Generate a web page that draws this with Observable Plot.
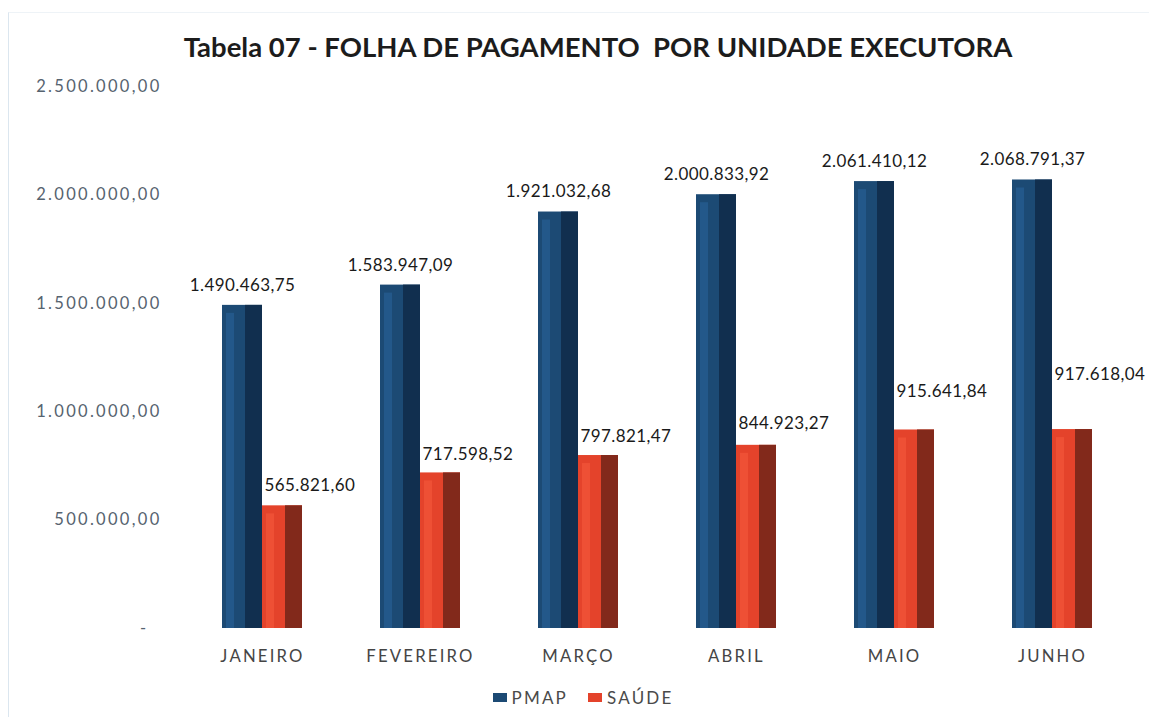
<!DOCTYPE html>
<html>
<head>
<meta charset="utf-8">
<script src="https://cdn.jsdelivr.net/npm/d3@7"></script>
<script src="https://cdn.jsdelivr.net/npm/@observablehq/plot@0.6"></script>
<style>
  html, body { margin: 0; padding: 0; background: #ffffff; overflow: hidden; }
  #wrap { position: relative; width: 1154px; height: 720px; }
  #frame { position: absolute; left: 8px; top: 12px; width: 1140px; height: 704px; border-left: 1px solid #dbe6ef; border-top: 1px solid #eef3f7; }
  #title { position: absolute; top: 30px; left: 42px; width: 1112px; text-align: center; white-space: pre;
           font-family: Lato, "Open Sans", sans-serif; font-weight: 700; font-size: 27.5px; color: #1c1c1c; }
  #chart { position: absolute; top: 70px; left: 0; }
  #chart g[aria-label="y-axis tick label"] { letter-spacing: 2.3px; }
  #chart g[aria-label="fx-axis tick label"] { letter-spacing: 2.2px; }
  #chart g[aria-label="text"] { letter-spacing: 0.4px; }
  #legend { position: absolute; top: 687px; left: 0; width: 1154px; display: flex; justify-content: center; gap: 20px;
            font-family: Lato, sans-serif; font-size: 17px; letter-spacing: 2.2px; color: #4a4a4a; padding-left: 12px; box-sizing: border-box; }
  .item { display: flex; align-items: center; gap: 5px; }
  .sw { width: 14px; height: 9px; display: inline-block; }
</style>
</head>
<body>
<div id="wrap">
  <div id="frame"></div>
  <div id="title">Tabela 07 - FOLHA DE PAGAMENTO  POR UNIDADE EXECUTORA</div>
  <div id="chart"></div>
  <div id="legend"></div>
</div>
<script>
// ---- data ----
const months = ["JANEIRO", "FEVEREIRO", "MARÇO", "ABRIL", "MAIO", "JUNHO"];
const seriesNames = ["PMAP", "SAÚDE"];
const pmapValues = [1490463.75, 1583947.09, 1921032.68, 2000833.92, 2061410.12, 2068791.37];
const saudeValues = [565821.60, 717598.52, 797821.47, 844923.27, 915641.84, 917618.04];
const yTicks = [0, 500000, 1000000, 1500000, 2000000, 2500000];

// ---- styles ----
const frontColor = {"PMAP": "#1c4a74", "SAÚDE": "#e4432b"};
const sideColor = {"PMAP": "#112f4f", "SAÚDE": "#82291b"};
const lightColor = {"PMAP": "#23588a", "SAÚDE": "#ee5035"};
// vertical offset of the SAÚDE value labels (style only)
const saudeLabelDy = {"JANEIRO": -20, "FEVEREIRO": -18, "MARÇO": -19, "ABRIL": -22, "MAIO": -38, "JUNHO": -55};
const FONT = "Lato, 'Open Sans', sans-serif";

const rows = months.flatMap((m, i) => [
  {month: m, series: seriesNames[0], value: pmapValues[i]},
  {month: m, series: seriesNames[1], value: saudeValues[i]}
]);

const loc = d3.formatLocale({decimal: ",", thousands: ".", grouping: [3], currency: ["", ""]});
const fmt = loc.format(",.2f");
const tickFmt = v => v === 0 ? "-\u00a0\u00a0" : fmt(v);

const saudeLabelMarks = months.map(m =>
  Plot.text(rows.filter(d => d.series === "SAÚDE" && d.month === m), {
    fx: "month", x: "series", y: "value", text: d => fmt(d.value),
    dy: saudeLabelDy[m], dx: -18, textAnchor: "start", fontSize: 17, fill: "#1a1a1a"
  })
);

const plot = Plot.plot({
  width: 1154,
  height: 600,
  marginTop: 16,
  marginBottom: 42,
  marginLeft: 183,
  marginRight: 23,
  style: {fontFamily: FONT, background: "transparent", overflow: "visible"},
  fx: {domain: months, padding: 0, label: null},
  x: {domain: seriesNames, paddingInner: 0, paddingOuter: 0.975, axis: null},
  y: {domain: [0, 2500000], label: null},
  marks: [
    Plot.axisY({ticks: yTicks, tickFormat: tickFmt, tickSize: 0, tickPadding: 22, fontSize: 16.5, fill: "#56636f", label: null}),
    Plot.axisFx({anchor: "bottom", tickSize: 0, tickPadding: 22, fontSize: 16.7, fill: "#454545", label: null}),
    Plot.barY(rows, {fx: "month", x: "series", y: "value", fill: d => frontColor[d.series]}),
    Plot.barY(rows, {fx: "month", x: "series", y: "value", fill: d => lightColor[d.series], insetLeft: 4, insetRight: 28, insetTop: 8}),
    Plot.barY(rows, {fx: "month", x: "series", y: "value", fill: d => sideColor[d.series], insetLeft: 23}),
    Plot.text(rows.filter(d => d.series === "PMAP"), {fx: "month", x: "series", y: "value", text: d => fmt(d.value),
      dy: -20, fontSize: 17, fill: "#1a1a1a"}),
    ...saudeLabelMarks
  ]
});
document.getElementById("chart").appendChild(plot);

const legend = document.getElementById("legend");
for (const s of seriesNames) {
  const item = document.createElement("span");
  item.className = "item";
  const sw = document.createElement("span");
  sw.className = "sw";
  sw.style.background = frontColor[s];
  item.appendChild(sw);
  item.appendChild(document.createTextNode(s));
  legend.appendChild(item);
}
</script>
</body>
</html>
